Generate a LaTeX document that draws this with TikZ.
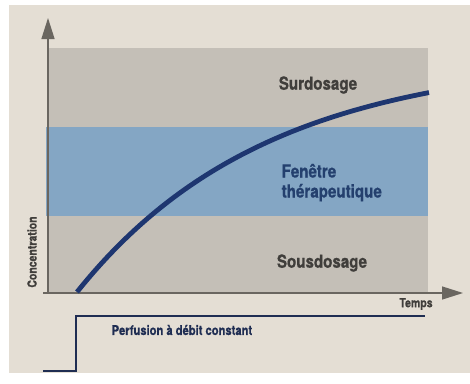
\documentclass[tikz,border=0pt]{standalone}
\usepackage{fontspec}
\setmainfont{TeX Gyre Heros}[FakeStretch=0.84,BoldFeatures={FakeBold=0.8}]
\usetikzlibrary{arrows.meta}
\definecolor{paper}{HTML}{E4DED4}
\definecolor{zone}{HTML}{C4BFB7}
\definecolor{band}{HTML}{84A6C4}
\definecolor{curvec}{HTML}{1E3670}
\definecolor{axisc}{HTML}{6A6660}
\definecolor{txtgrey}{HTML}{403E3B}
\definecolor{txtblue}{HTML}{24406E}
\definecolor{perfc}{HTML}{1F2D52}
\tikzset{
  axisline/.style={draw=axisc, line width=1.4pt, -{Triangle[length=21pt,width=13pt]}},
  zonelabel/.style={font=\fontsize{18}{20}\selectfont\bfseries, text=txtgrey, inner sep=0pt},
  bandlabel/.style={font=\fontsize{18}{20}\selectfont\bfseries, text=txtblue, inner sep=0pt},
  smalllabel/.style={font=\fontsize{12.5}{14}\selectfont\bfseries, text=txtgrey, inner sep=0pt},
  perflabel/.style={font=\fontsize{13.3}{15}\selectfont\bfseries, text=perfc, inner sep=0pt},
}
\begin{document}
\begin{tikzpicture}[x=1pt,y=-1pt]
\useasboundingbox (0,0) rectangle (470,383);
\fill[white] (0,0) rectangle (470,383);
\fill[paper] (9,5) rectangle (470,373);
% zones
\fill[zone] (48,48) rectangle (428,293);
\fill[band] (46,127) rectangle (428,216);
% axes
\coordinate (o) at (48,293);
\coordinate (ytip) at (48,18);
\coordinate (xstart) at (43,293);
\coordinate (xtip) at (463,293);
\draw[axisline] (o) -- (ytip);
\draw[axisline] (xstart) -- (xtip);
% curve
\draw[curvec, line width=4.8pt] plot[domain=0:352, samples=90, smooth]
  ({77+\x}, {292-236*(1-exp(-0.0053*\x))});
% labels
\node[zonelabel] (sur) at (318,85) {Surdosage};
\node[bandlabel, anchor=base west] (fen) at (281.5,177.5) {Fenêtre};
\node[bandlabel, anchor=base west] (ther) at (281.5,197.5) {thérapeutique};
\node[zonelabel] (sous) at (322,263) {Sousdosage};
\node[smalllabel] (temps) at (416,304) {Temps};
\node[smalllabel, rotate=90] (conc) at (32,252) {Concentration};
% perfusion
\coordinate (p0) at (43,371);
\coordinate (p1) at (76,371);
\coordinate (p2) at (76,316);
\coordinate (p3) at (425,316);
\draw[perfc, line width=1.8pt] (p0) -- (p1) -- (p2) -- (p3);
\node[perflabel, anchor=west] (perf) at (111.5,330) {Perfusion à débit constant};
\end{tikzpicture}
\end{document}
